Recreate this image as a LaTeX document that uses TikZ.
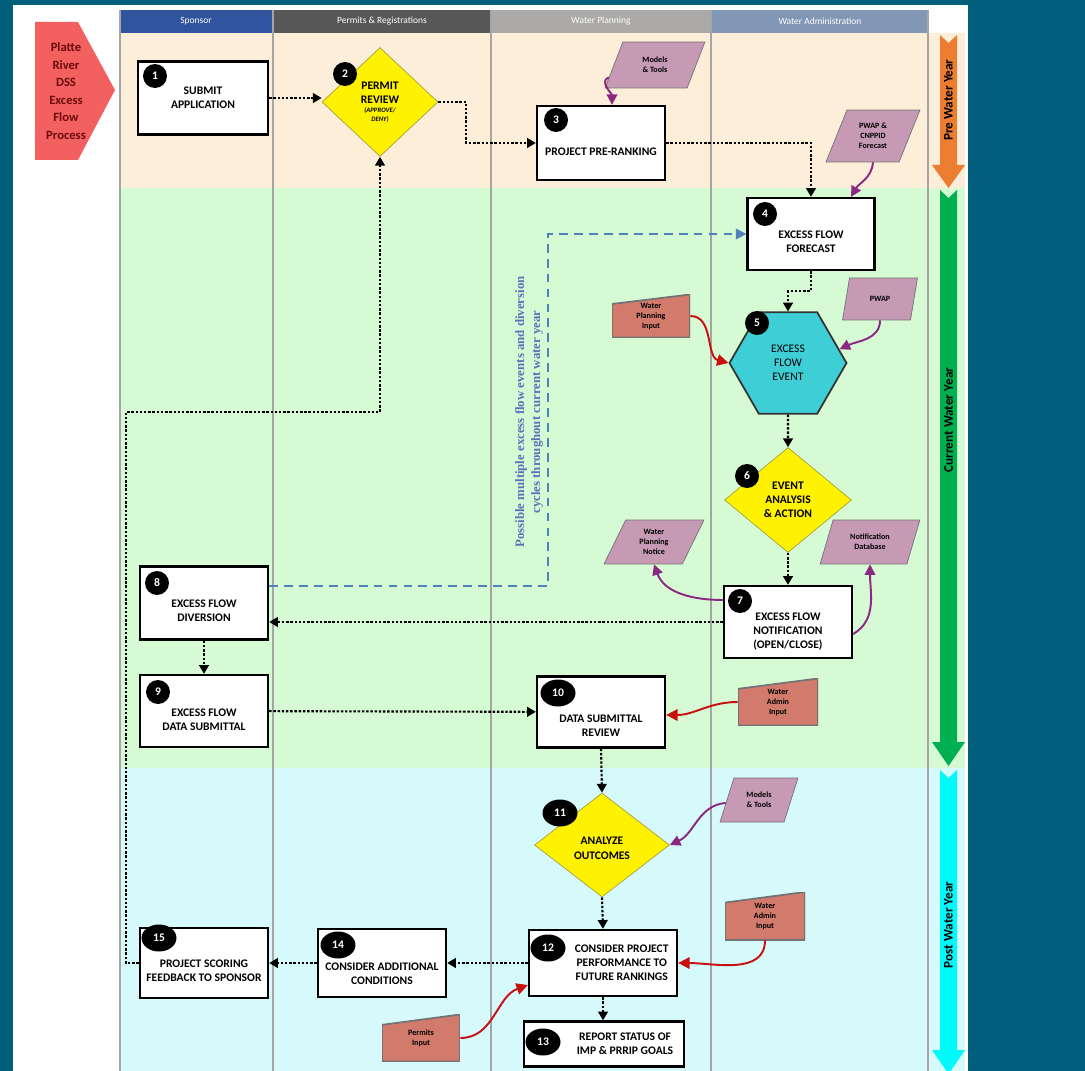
\documentclass[tikz,border=0pt]{standalone}
\usepackage{fontspec}
\setmainfont{Carlito}
\newfontfamily\notefont{Liberation Serif}
\usetikzlibrary{shapes.geometric}
\usetikzlibrary{arrows.meta}
\usetikzlibrary{calc}
\definecolor{bgteal}{RGB}{0,94,124}
\definecolor{preband}{RGB}{252,238,216}
\definecolor{curband}{RGB}{214,250,212}
\definecolor{postband}{RGB}{214,250,252}
\definecolor{hdsponsor}{RGB}{48,84,158}
\definecolor{hdpermit}{RGB}{88,88,88}
\definecolor{hdplan}{RGB}{172,170,168}
\definecolor{hdadmin}{RGB}{130,150,182}
\definecolor{laneline}{RGB}{165,165,165}
\definecolor{datapink}{RGB}{198,154,180}
\definecolor{inputred}{RGB}{210,122,108}
\definecolor{flowred}{RGB}{200,16,16}
\definecolor{flowpurple}{RGB}{140,40,130}
\definecolor{hexcyan}{RGB}{62,206,214}
\definecolor{loopblue}{RGB}{79,129,189}
\definecolor{notetext}{RGB}{92,112,186}
\definecolor{startred}{RGB}{242,96,96}
\definecolor{starttext}{RGB}{110,10,10}
\definecolor{prearrow}{RGB}{237,125,49}
\definecolor{curarrow}{RGB}{0,176,80}
\definecolor{postarrow}{RGB}{0,250,250}
\begin{document}
\begin{tikzpicture}[x=0.02cm, y=0.02cm,
  every node/.style={font=\fontsize{6.6}{8}\selectfont\bfseries, align=center},
  stepbox/.style={draw, line width=1.3pt, fill=white, minimum width=2.56cm, minimum height=1.46cm, inner sep=1pt},
  decide/.style={diamond, draw=yellow!60!black, fill=yellow, inner sep=0pt},
  badge/.style={circle, fill=black, text=white, minimum size=0.48cm, inner sep=0pt},
  bigbadge/.style={ellipse, fill=black, text=white, minimum width=0.7cm, minimum height=0.54cm, inner sep=0pt},
  datain/.style={trapezium, trapezium left angle=66, trapezium right angle=114, trapezium stretches=true,
    draw=black!55, fill=datapink, inner sep=0pt, font=\fontsize{4.6}{5.6}\selectfont\bfseries},
  manin/.style={inner sep=0pt, font=\fontsize{4.6}{5.6}\selectfont\bfseries, path picture={
    \fill[inputred, draw=black!55, line width=1pt] (path picture bounding box.south west) -- (path picture bounding box.south east)
      -- (path picture bounding box.north east) -- ($(path picture bounding box.north west)!0.22!(path picture bounding box.south west)$) -- cycle;}},
  lanehead/.style={text=white, font=\fontsize{5.4}{6}\selectfont},
  flow/.style={line width=1.2pt, dash pattern=on 1.4pt off 1pt, -{Triangle[length=5pt,width=5.5pt]}},
  feed/.style={flowpurple, line width=1.1pt, -{Triangle[length=6pt,width=6pt]}},
  inp/.style={flowred, line width=1.1pt, -{Triangle[length=6.5pt,width=6.5pt]}},
]
\useasboundingbox (0,0) rectangle (1085,-1071);
\fill[bgteal] (0,0) rectangle (1085,-1071);
\fill[white] (13,-5) rectangle (968,-1071);

% swim lanes and year bands
\fill[preband] (120,-33) rectangle (965,-188);
\fill[curband] (120,-188) rectangle (965,-768);
\fill[postband] (120,-768) rectangle (965,-1071);
\fill[hdsponsor] (120,-10) rectangle (273,-33);
\fill[hdpermit] (273,-10) rectangle (491,-33);
\fill[hdplan] (491,-10) rectangle (711,-33);
\fill[hdadmin] (711,-10) rectangle (928,-33);
\node[lanehead] (hsp) at (196,-21) {Sponsor};
\node[lanehead] (hpr) at (382,-21) {Permits \& Registrations};
\node[lanehead] (hwp) at (601,-21) {Water Planning};
\node[lanehead] (hwa) at (820,-21) {Water Administration};
\foreach \lx in {120,273,491,711,928}
  \draw[laneline, line width=0.8pt] (\lx,-10) -- (\lx,-1071);

% year arrows on the right
\fill[prearrow] (940,-35) -- (948.5,-43) -- (957,-35) -- (957,-165) -- (965,-165) -- (948.5,-188) -- (932,-165) -- (940,-165) -- cycle;
\fill[curarrow] (940,-190) -- (948.5,-198) -- (957,-190) -- (957,-742) -- (965,-742) -- (948.5,-766) -- (932,-742) -- (940,-742) -- cycle;
\fill[postarrow] (940,-770) -- (948.5,-778) -- (957,-770) -- (957,-1050) -- (965,-1050) -- (948.5,-1074) -- (932,-1050) -- (940,-1050) -- cycle;
\node[rotate=90, font=\fontsize{7.5}{8}\selectfont\bfseries] (ypre) at (948.5,-100) {Pre Water Year};
\node[rotate=90, font=\fontsize{7.5}{8}\selectfont\bfseries] (ycur) at (948.5,-420) {Current Water Year};
\node[rotate=90, font=\fontsize{7.5}{8}\selectfont\bfseries] (ypost) at (948.5,-925) {Post Water Year};

% process title
\fill[startred] (35,-22) -- (78,-22) -- (115,-90) -- (78,-160) -- (35,-160) -- cycle;
\node[text=starttext, font=\fontsize{7.2}{10}\selectfont\bfseries] (title) at (66,-91) {Platte\\River\\DSS\\Excess\\Flow\\Process};

% steps
\node[stepbox, minimum width=2.6cm] (s1) at (203,-98) {SUBMIT\\APPLICATION};
\node[decide, minimum width=2.32cm, minimum height=2.18cm] (s2) at (380,-102) {PERMIT\\REVIEW\\[-2.5pt]\fontsize{3.8}{4.4}\selectfont\itshape (APPROVE/\\[-3pt]\fontsize{3.8}{4.4}\selectfont\itshape DENY)};
\node[stepbox, minimum height=1.48cm] (s3) at (601,-143) {\mbox{}\\[6.8pt]PROJECT PRE-RANKING};
\node[stepbox, minimum width=2.54cm, minimum height=1.44cm] (s4) at (811,-234) {\mbox{}\\[5.6pt]EXCESS FLOW\\FORECAST};
\node[regular polygon, regular polygon sides=6, minimum size=2.34cm, inner sep=0pt, draw=black!80, line width=1pt, fill=hexcyan,
  font=\fontsize{6.6}{8}\selectfont] (s5) at (788,-363) {EXCESS\\FLOW\\EVENT};
\node[decide, minimum width=2.54cm, minimum height=2.1cm] (s6) at (788,-500) {EVENT\\ANALYSIS\\\& ACTION};
\node[stepbox, minimum height=1.44cm] (s7) at (788,-622) {\mbox{}\\[6.8pt]EXCESS FLOW\\NOTIFICATION\\(OPEN/CLOSE)};
\node[stepbox] (s8) at (204,-603) {\mbox{}\\[4.6pt]EXCESS FLOW\\DIVERSION};
\node[stepbox, minimum height=1.44cm] (s9) at (204,-711) {\mbox{}\\[6.2pt]EXCESS FLOW\\DATA SUBMITTAL};
\node[stepbox, minimum height=1.42cm] (s10) at (601,-712) {\mbox{}\\[12.4pt]DATA SUBMITTAL\\REVIEW};
\node[decide, minimum width=2.7cm, minimum height=2.08cm] (s11) at (602,-845) {\mbox{}\\ANALYZE\\OUTCOMES};
\node[stepbox, minimum width=2.96cm, minimum height=1.32cm] (s12) at (603,-963) {\hspace*{0.75cm}CONSIDER PROJECT\\\hspace*{0.75cm}PERFORMANCE TO\\\hspace*{0.75cm}FUTURE RANKINGS};
\node[stepbox, minimum width=3.2cm, minimum height=0.9cm] (s13) at (604,-1044) {\hspace*{0.84cm}REPORT STATUS OF\\\hspace*{0.84cm}IMP \& PRRIP GOALS};
\node[stepbox, minimum width=2.56cm, minimum height=1.36cm] (s14) at (382,-963) {\mbox{}\\[9pt]CONSIDER ADDITIONAL\\CONDITIONS};
\node[stepbox, minimum height=1.4cm] (s15) at (204,-963) {\mbox{}\\[4.6pt]PROJECT SCORING\\FEEDBACK TO SPONSOR};

% step numbers
\node[badge] (b1) at (155,-76) {1};
\node[badge] (b2) at (345,-74) {2};
\node[badge] (b3) at (556,-120) {3};
\node[badge] (b4) at (765,-214) {4};
\node[badge] (b5) at (757,-323) {5};
\node[badge] (b6) at (747,-476) {6};
\node[badge] (b7) at (740,-601) {7};
\node[badge] (b8) at (157,-583) {8};
\node[badge] (b9) at (158,-692) {9};
\node[bigbadge] (b10) at (558,-693) {10};
\node[bigbadge] (b11) at (560,-813) {11};
\node[bigbadge] (b12) at (548,-948) {12};
\node[bigbadge] (b13) at (543,-1042) {13};
\node[bigbadge] (b14) at (338,-945) {14};
\node[bigbadge] (b15) at (159,-938) {15};

% data and inputs
\node[datain, minimum width=2cm, minimum height=0.92cm] (tools1) at (655,-65) {Models\\\& Tools};
\node[datain, minimum width=1.88cm, minimum height=1.04cm] (fcst) at (873,-136) {PWAP \&\\CNPPID\\Forecast};
\node[datain, minimum width=1.5cm, minimum height=0.84cm] (pwap) at (880,-299) {PWAP};
\node[datain, minimum width=2cm, minimum height=0.88cm] (wpnote) at (654,-542) {Water\\Planning\\Notice};
\node[datain, minimum width=2cm, minimum height=0.88cm] (notdb) at (870,-542) {Notification\\Database};
\node[datain, minimum width=1.56cm, minimum height=0.88cm] (tools2) at (759,-800) {Models\\\& Tools};
\node[manin, minimum width=1.56cm, minimum height=0.86cm] (wpin) at (651,-316) {\mbox{}\\[-2pt]Water\\Planning\\Input};
\node[manin, minimum width=1.6cm, minimum height=0.94cm] (wain1) at (778,-702) {\mbox{}\\[-2pt]Water\\Admin\\Input};
\node[manin, minimum width=1.6cm, minimum height=0.96cm] (wain2) at (765,-916) {\mbox{}\\[-2pt]Water\\Admin\\Input};
\node[manin, minimum width=1.56cm, minimum height=0.94cm] (pin) at (421,-1038) {\mbox{}\\[-2pt]Permits\\Input};

% connectors
\coordinate (cyc) at (548,-234);
\coordinate (back) at (126,-412);
\draw[flow] (s1) -- (s1 -| s2.west);
\draw[flow] (s2.east) -- ++(28,0) |- (s3.west);
\draw[flow] (s3.east) -| (s4.north);
\draw[flow] (s4.south) -- ++(0,-20) -| (s5.north);
\draw[flow] (s5.south) -- (s6.north);
\draw[flow] (s6.south) -- (s7.north);
\draw[flow] (s7.west) -- (s8.east |- s7.west);
\draw[flow] (s8) -- (s9);
\draw[flow] (s9) -- (s10);
\draw[flow] (s10.south) -- (s11.north);
\draw[flow] (s11.south) -- (s12.north);
\draw[flow] (s12.south) -- (s12.south |- s13.north);
\draw[flow] (s12) -- (s14);
\draw[flow] (s14) -- (s15);
\draw[flow] (s15.west) -| (back) -| (s2.south);
\draw[loopblue, line width=1.2pt, dash pattern=on 5pt off 3.5pt, -{Triangle[length=6pt,width=6pt]}] ([shift={(0,17)}]s8.east) -| (cyc) -- (s4.west);
\draw[feed] (tools1.195) to[out=200, in=90] ([shift={(11,0)}]s3.north);
\draw[feed] (fcst.south) to[out=-95, in=60] ([shift={(40,0)}]s4.north);
\draw[inp] (wpin.east) to[out=0, in=165] (s5.west);
\draw[feed] (pwap.south) to[out=-90, in=25] (s5.15);
\draw[feed] ([shift={(0,22)}]s7.west) to[out=180, in=-70] (wpnote.south);
\draw[feed] ([shift={(0,-12)}]s7.east) to[out=30, in=-90] (notdb.south);
\draw[inp] (wain1.west) to[out=180, in=0] ([shift={(0,-3)}]s10.east);
\draw[feed] (tools2.185) to[out=185, in=25] (s11.east);
\draw[inp] (wain2.south) to[out=-90, in=0] (s12.east);
\draw[inp] (pin.east) to[out=0, in=200] ([shift={(0,-22)}]s12.west);

\node[rotate=90, text=notetext, font=\notefont\fontsize{7.3}{9}\selectfont\bfseries] (note) at (529,-412)
  {Possible multiple excess flow events and diversion\\cycles throughout current water year};
\end{tikzpicture}
\end{document}
